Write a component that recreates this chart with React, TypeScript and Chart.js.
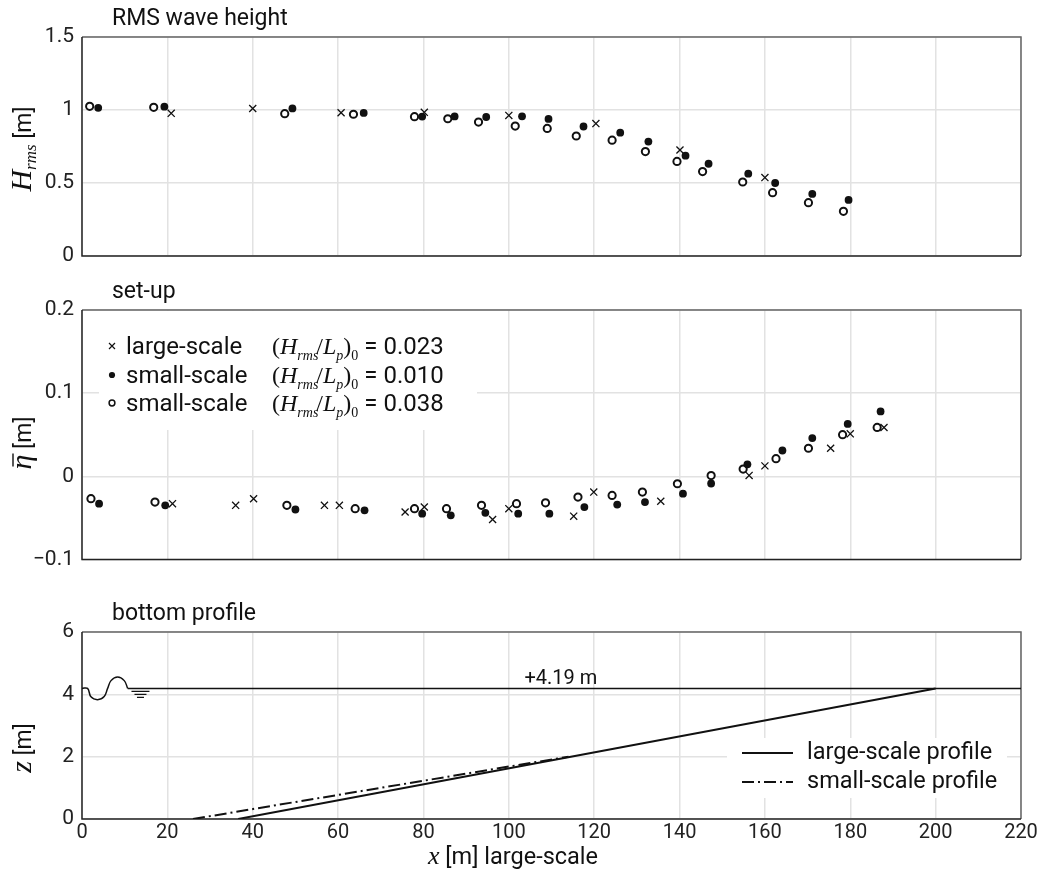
import React, { useEffect, useRef } from "react";
import { Chart, registerables } from "chart.js";

Chart.register(...registerables);

const SANS = "Roboto, 'Noto Sans', sans-serif";
const SERIF = "'Liberation Serif', 'DejaVu Serif', serif";
const GRID = "#e2e2e2";
const INK = "#111111";

// ---------------- shared x axis ----------------
const X_MIN = 0;
const X_MAX = 220;
const X_STEP = 20;

// ---------------- panel 1: RMS wave height ----------------
const hrmsLargeX = [20.9, 40, 60.7, 80.2, 100, 120.4, 140.1, 160];
const hrmsLargeY = [0.977, 1.01, 0.981, 0.984, 0.963, 0.907, 0.726, 0.537];

const hrmsSmallFilledX = [3.8, 19.3, 49.3, 66, 79.7, 87.3, 94.7, 103.1, 109.3, 117.5, 126.1, 132.7, 141.4, 146.8, 156.1, 162.4, 171.1, 179.6];
const hrmsSmallFilledY = [1.015, 1.023, 1.011, 0.98, 0.955, 0.956, 0.952, 0.957, 0.939, 0.887, 0.845, 0.784, 0.687, 0.632, 0.564, 0.5, 0.425, 0.384];

const hrmsSmallOpenX = [1.8, 16.8, 47.5, 63.6, 77.9, 85.7, 92.9, 101.5, 109, 115.8, 124.2, 132, 139.4, 145.4, 154.8, 161.8, 170.2, 178.4];
const hrmsSmallOpenY = [1.025, 1.018, 0.975, 0.971, 0.954, 0.94, 0.917, 0.89, 0.874, 0.822, 0.793, 0.715, 0.648, 0.578, 0.507, 0.434, 0.365, 0.306];

// ---------------- panel 2: set-up ----------------
const setupLargeX = [21.2, 36, 40.2, 56.8, 60.3, 75.7, 80.2, 96.2, 100, 115.2, 119.9, 135.6, 156.3, 160, 175.4, 180, 187.9];
const setupLargeY = [-0.033, -0.035, -0.027, -0.035, -0.035, -0.043, -0.037, -0.052, -0.039, -0.048, -0.019, -0.03, 0.001, 0.0125, 0.0337, 0.051, 0.0587];

const setupSmallFilledX = [4, 19.5, 50, 66.2, 79.7, 86.4, 94.5, 102.2, 109.5, 117.7, 125.4, 131.9, 140.8, 147.4, 155.9, 164.1, 171.1, 179.4, 187.1];
const setupSmallFilledY = [-0.033, -0.035, -0.04, -0.041, -0.045, -0.047, -0.044, -0.045, -0.045, -0.037, -0.034, -0.031, -0.021, -0.0087, 0.0144, 0.031, 0.046, 0.063, 0.078];

const setupSmallOpenX = [2.1, 17.1, 48, 64, 77.9, 85.4, 93.6, 101.8, 108.6, 116.2, 124.2, 131.3, 139.5, 147.4, 154.9, 162.6, 170.2, 178.2, 186.3];
const setupSmallOpenY = [-0.027, -0.031, -0.035, -0.039, -0.039, -0.039, -0.035, -0.033, -0.032, -0.025, -0.023, -0.019, -0.009, 0.0008, 0.0087, 0.0212, 0.0337, 0.05, 0.0587];

const setupLegendNames = ["large-scale", "small-scale", "small-scale"];
const setupLegendSteepness = ["0.023", "0.010", "0.038"];

// ---------------- panel 3: bottom profile ----------------
const waveX = [0, 1.3, 2.1, 3.65, 5.2, 6.0, 6.8, 8.35, 9.9, 10.7];
const waveZ = [4.19, 4.19, 3.92, 3.83, 3.93, 4.19, 4.44, 4.56, 4.44, 4.19];
const swlX = [10.7, 220];
const swlZ = [4.19, 4.19];
const profileLargeX = [36.6, 200];
const profileLargeZ = [0, 4.19];
const profileSmallX = [26, 114];
const profileSmallZ = [0, 2.0];
const swlLabel = "+4.19 m";
const swlLabelX = 112.2;
const swlSymbolX = 13.7;
const profileLegend = ["large-scale profile", "small-scale profile"];

// ---------------- helpers ----------------
const pts = (xs: number[], ys: number[]) => xs.map((x, i) => ({ x, y: ys[i] }));

type Part = { text: string; font: string; dy?: number; dx?: number };

function drawParts(ctx: CanvasRenderingContext2D, parts: Part[], x: number, y: number, align: "left" | "center") {
  const widths = parts.map((p) => {
    ctx.font = p.font;
    return ctx.measureText(p.text).width + (p.dx || 0);
  });
  const total = widths.reduce((a, b) => a + b, 0);
  let cx = align === "center" ? x - total / 2 : x;
  const starts: number[] = [];
  parts.forEach((p, i) => {
    ctx.font = p.font;
    starts.push(cx);
    ctx.fillText(p.text, cx, y + (p.dy || 0));
    cx += widths[i];
  });
  return starts;
}

function drawFrame(chart: any) {
  const { ctx, chartArea: a } = chart;
  ctx.save();
  ctx.lineWidth = 1.5;
  ctx.strokeStyle = "#666";
  ctx.beginPath();
  ctx.moveTo(a.left, a.top);
  ctx.lineTo(a.right, a.top);
  ctx.lineTo(a.right, a.bottom);
  ctx.stroke();
  ctx.strokeStyle = "#222";
  ctx.beginPath();
  ctx.moveTo(a.left, a.top);
  ctx.lineTo(a.left, a.bottom);
  ctx.lineTo(a.right, a.bottom);
  ctx.stroke();
  ctx.restore();
}

function drawTitle(chart: any, text: string) {
  const { ctx, chartArea: a } = chart;
  ctx.save();
  ctx.fillStyle = INK;
  ctx.textBaseline = "alphabetic";
  ctx.textAlign = "left";
  ctx.font = `23px ${SANS}`;
  ctx.fillText(text, 112, a.top - 12);
  ctx.restore();
}

function rotated(chart: any, cx: number, cy: number, fn: (ctx: CanvasRenderingContext2D) => void) {
  const ctx = chart.ctx as CanvasRenderingContext2D;
  ctx.save();
  ctx.translate(cx, cy);
  ctx.rotate(-Math.PI / 2);
  ctx.fillStyle = INK;
  ctx.textBaseline = "alphabetic";
  ctx.textAlign = "left";
  fn(ctx);
  ctx.restore();
}

function xScale(showTicks: boolean, height: number) {
  return {
    type: "linear",
    min: X_MIN,
    max: X_MAX,
    ticks: {
      display: showTicks,
      stepSize: X_STEP,
      autoSkip: false,
      maxRotation: 0,
      font: { family: SANS, size: 20 },
      color: "#222",
      padding: 2,
    },
    grid: { color: GRID, lineWidth: 1.5, drawTicks: false },
    border: { display: false },
    afterFit: (s: any) => {
      s.height = height;
    },
  };
}

function yScale(min: number, max: number, step: number) {
  return {
    type: "linear",
    min,
    max,
    ticks: {
      stepSize: step,
      font: { family: SANS, size: 21 },
      color: "#222",
      padding: 8,
      callback: (v: number) => {
        const r = Math.round(v * 1000) / 1000;
        return r < 0 ? "\u2212" + Math.abs(r) : String(r);
      },
    },
    grid: { color: GRID, lineWidth: 1.5, drawTicks: false },
    border: { display: false },
    afterFit: (s: any) => {
      s.width = 82;
    },
  };
}

const crossDs = (label: string, data: any[]) => ({
  label,
  data,
  pointStyle: "crossRot",
  pointRadius: 5,
  pointBorderWidth: 1.3,
  borderColor: INK,
  backgroundColor: INK,
  showLine: false,
});
const filledDs = (label: string, data: any[]) => ({
  label,
  data,
  pointStyle: "circle",
  pointRadius: 3.9,
  pointBorderWidth: 0,
  borderColor: INK,
  backgroundColor: INK,
  showLine: false,
});
const openDs = (label: string, data: any[]) => ({
  label,
  data,
  pointStyle: "circle",
  pointRadius: 3.6,
  pointBorderWidth: 2,
  borderColor: INK,
  backgroundColor: "#ffffff",
  showLine: false,
});

const baseOptions = (top: number, bottom: number) => ({
  responsive: false,
  animation: false,
  events: [],
  layout: { padding: { left: 0, right: 42, top, bottom } },
  plugins: { legend: { display: false }, tooltip: { enabled: false }, title: { display: false } },
});

// ---------------- configs ----------------
function config1(): any {
  return {
    type: "scatter",
    data: {
      datasets: [
        crossDs("large-scale", pts(hrmsLargeX, hrmsLargeY)),
        filledDs("small-scale 0.010", pts(hrmsSmallFilledX, hrmsSmallFilledY)),
        openDs("small-scale 0.038", pts(hrmsSmallOpenX, hrmsSmallOpenY)),
      ],
    },
    options: {
      ...baseOptions(37, 24),
      scales: { x: xScale(false, 0), y: yScale(0, 1.5, 0.5) },
    },
    plugins: [
      {
        id: "decor1",
        beforeDatasetsDraw(chart: any) {
          drawFrame(chart);
        },
        afterDraw(chart: any) {
          drawTitle(chart, "RMS wave height");
          rotated(chart, 31, 149, (ctx) => {
            drawParts(
              ctx,
              [
                { text: "H", font: `italic 30px ${SERIF}` },
                { text: "rms", font: `italic 17px ${SERIF}`, dy: 5 },
                { text: " [m]", font: `23px ${SANS}` },
              ],
              0,
              0,
              "center"
            );
          });
        },
      },
    ],
  };
}

function drawMiniMarker(ctx: CanvasRenderingContext2D, kind: number, x: number, y: number) {
  ctx.save();
  ctx.strokeStyle = INK;
  ctx.fillStyle = INK;
  if (kind === 0) {
    const r = 3;
    ctx.lineWidth = 1.2;
    ctx.beginPath();
    ctx.moveTo(x - r, y - r);
    ctx.lineTo(x + r, y + r);
    ctx.moveTo(x + r, y - r);
    ctx.lineTo(x - r, y + r);
    ctx.stroke();
  } else if (kind === 1) {
    ctx.beginPath();
    ctx.arc(x, y, 3.1, 0, Math.PI * 2);
    ctx.fill();
  } else {
    ctx.lineWidth = 1.5;
    ctx.fillStyle = "#fff";
    ctx.beginPath();
    ctx.arc(x, y, 2.9, 0, Math.PI * 2);
    ctx.fill();
    ctx.stroke();
  }
  ctx.restore();
}

function config2(): any {
  return {
    type: "scatter",
    data: {
      datasets: [
        crossDs("large-scale", pts(setupLargeX, setupLargeY)),
        filledDs("small-scale 0.010", pts(setupSmallFilledX, setupSmallFilledY)),
        openDs("small-scale 0.038", pts(setupSmallOpenX, setupSmallOpenY)),
      ],
    },
    options: {
      ...baseOptions(30, 6),
      scales: { x: xScale(false, 0), y: yScale(-0.1, 0.2, 0.1) },
    },
    plugins: [
      {
        id: "decor2",
        beforeDatasetsDraw(chart: any) {
          const { ctx, chartArea: a } = chart;
          ctx.save();
          ctx.fillStyle = "#fff";
          ctx.fillRect(99, a.top + 1, 378, 119);
          ctx.restore();
          drawFrame(chart);
          ctx.save();
          ctx.fillStyle = INK;
          ctx.textBaseline = "alphabetic";
          const baselines = [74, 103, 131];
          setupLegendNames.forEach((name, i) => {
            const b = baselines[i];
            drawMiniMarker(ctx, i, 112, b - 8);
            ctx.font = `24px ${SANS}`;
            ctx.fillText(name, 126, b);
            drawParts(
              ctx,
              [
                { text: "(", font: `24px ${SERIF}` },
                { text: "H", font: `italic 24px ${SERIF}` },
                { text: "rms", font: `italic 14px ${SERIF}`, dy: 6, dx: -2 },
                { text: "/", font: `24px ${SERIF}` },
                { text: "L", font: `italic 24px ${SERIF}` },
                { text: "p", font: `italic 14px ${SERIF}`, dy: 6 },
                { text: ")", font: `24px ${SERIF}` },
                { text: "0", font: `14px ${SERIF}`, dy: 6 },
                { text: " = " + setupLegendSteepness[i], font: `24px ${SANS}` },
              ],
              272,
              b,
              "left"
            );
          });
          ctx.restore();
        },
        afterDraw(chart: any) {
          drawTitle(chart, "set-up");
          rotated(chart, 31, 163, (ctx) => {
            const starts = drawParts(
              ctx,
              [
                { text: "\u03B7", font: `italic 30px ${SERIF}` },
                { text: " [m]", font: `23px ${SANS}` },
              ],
              0,
              0,
              "center"
            );
            ctx.font = `italic 30px ${SERIF}`;
            const w = ctx.measureText("\u03B7").width;
            ctx.strokeStyle = INK;
            ctx.lineWidth = 1.4;
            ctx.beginPath();
            ctx.moveTo(starts[0] + 3, -18);
            ctx.lineTo(starts[0] + w + 1, -18);
            ctx.stroke();
          });
        },
      },
    ],
  };
}

function config3(): any {
  const lineDs = (label: string, xs: number[], zs: number[], extra: any = {}) => ({
    label,
    data: pts(xs, zs),
    showLine: true,
    pointRadius: 0,
    borderColor: INK,
    backgroundColor: INK,
    borderWidth: 1.5,
    ...extra,
  });
  return {
    type: "scatter",
    data: {
      datasets: [
        lineDs("wave", waveX, waveZ, { tension: 0.4 }),
        lineDs("still water level", swlX, swlZ),
        lineDs(profileLegend[0], profileLargeX, profileLargeZ, { borderWidth: 2 }),
        lineDs(profileLegend[1], profileSmallX, profileSmallZ, { borderWidth: 2, borderDash: [12, 4, 2, 4] }),
      ],
    },
    options: {
      ...baseOptions(52, 0),
      scales: { x: xScale(true, 55), y: yScale(0, 6, 2) },
    },
    plugins: [
      {
        id: "decor3",
        beforeDatasetsDraw(chart: any) {
          const { ctx } = chart;
          ctx.save();
          ctx.fillStyle = "#fff";
          ctx.fillRect(727, 158, 280, 60);
          ctx.restore();
          drawFrame(chart);
        },
        afterDatasetsDraw(chart: any) {
          const { ctx, scales } = chart;
          const ySwl = scales.y.getPixelForValue(swlZ[0]);
          ctx.save();
          ctx.fillStyle = INK;
          ctx.font = `20px ${SANS}`;
          ctx.textAlign = "center";
          ctx.textBaseline = "alphabetic";
          ctx.fillText(swlLabel, scales.x.getPixelForValue(swlLabelX), ySwl - 4);
          // still-water symbol
          const sx = scales.x.getPixelForValue(swlSymbolX);
          ctx.strokeStyle = INK;
          ctx.lineWidth = 1.3;
          const bars: [number, number][] = [
            [3, 9],
            [6, 6],
            [9, 3.5],
          ];
          ctx.beginPath();
          bars.forEach(([dy, hw]) => {
            ctx.moveTo(sx - hw, ySwl + dy);
            ctx.lineTo(sx + hw, ySwl + dy);
          });
          ctx.stroke();
          // legend
          ctx.lineWidth = 2;
          ctx.beginPath();
          ctx.moveTo(742, 173);
          ctx.lineTo(793, 173);
          ctx.stroke();
          ctx.setLineDash([12, 4, 2, 4]);
          ctx.beginPath();
          ctx.moveTo(742, 202);
          ctx.lineTo(793, 202);
          ctx.stroke();
          ctx.setLineDash([]);
          ctx.textAlign = "left";
          ctx.font = `23.5px ${SANS}`;
          ctx.fillText(profileLegend[0], 807, 179);
          ctx.fillText(profileLegend[1], 807, 208);
          ctx.restore();
        },
        afterDraw(chart: any) {
          drawTitle(chart, "bottom profile");
          rotated(chart, 31, 168, (ctx) => {
            drawParts(
              ctx,
              [
                { text: "z", font: `italic 30px ${SERIF}` },
                { text: " [m]", font: `23px ${SANS}` },
              ],
              0,
              0,
              "center"
            );
          });
          const ctx = chart.ctx as CanvasRenderingContext2D;
          ctx.save();
          ctx.fillStyle = INK;
          ctx.textBaseline = "alphabetic";
          drawParts(
            ctx,
            [
              { text: "x", font: `italic 26px ${SERIF}` },
              { text: " [m] large-scale", font: `23.5px ${SANS}` },
            ],
            513,
            284,
            "center"
          );
          ctx.restore();
        },
      },
    ],
  };
}

function Panel({ top, height, make }: { top: number; height: number; make: () => any }) {
  const ref = useRef<HTMLCanvasElement | null>(null);
  useEffect(() => {
    if (!ref.current) return;
    const chart = new Chart(ref.current, make());
    return () => chart.destroy();
  }, [make]);
  return (
    <canvas
      ref={ref}
      width={1063}
      height={height}
      style={{ position: "absolute", left: 0, top, width: 1063, height, display: "block" }}
    />
  );
}

export default function App() {
  return (
    <div style={{ position: "fixed", left: 0, top: 0, width: 1063, height: 874, background: "#fff", overflow: "hidden" }}>
      <Panel top={0} height={280} make={config1} />
      <Panel top={280} height={300} make={config2} />
      <Panel top={580} height={294} make={config3} />
    </div>
  );
}
